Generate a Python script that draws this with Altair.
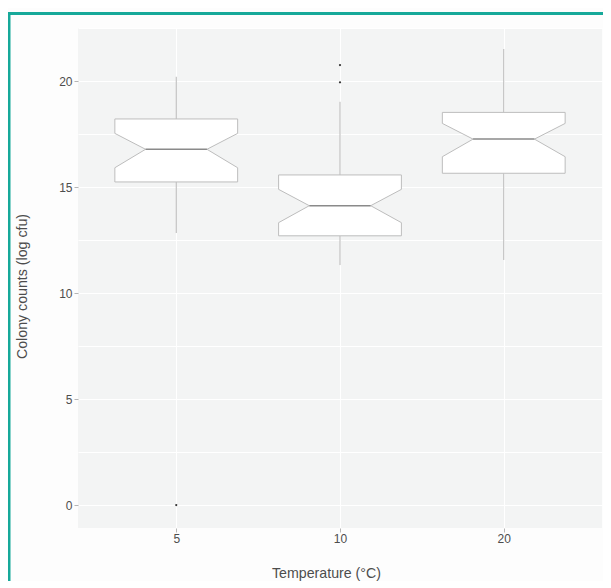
import altair as alt
import pandas as pd

# ---- data ----
temps = ["5", "10", "20"]
q1 = [15.24, 12.70, 15.65]
median = [16.78, 14.12, 17.26]
q3 = [18.21, 15.57, 18.52]
notch_lo = [15.91, 13.32, 16.43]
notch_hi = [17.53, 14.89, 18.00]
whisker_lo = [12.83, 11.32, 11.56]
whisker_hi = [20.20, 19.02, 21.51]
outlier_temp = ["5", "10", "10"]
outlier_val = [0.0, 19.94, 20.75]
y_grid = [0, 2.5, 5, 7.5, 10, 12.5, 15, 17.5, 20, 22.5]

BOX_HALF = 0.375
NOTCH_HALF = 0.1875

# ---- tables ----
rows = []
for i, t in enumerate(temps):
    p = i + 1
    for yv, h in [(q1[i], BOX_HALF), (notch_lo[i], BOX_HALF), (median[i], NOTCH_HALF),
                  (notch_hi[i], BOX_HALF), (q3[i], BOX_HALF)]:
        rows.append(dict(temp=t, y=yv, xl=p - h, xr=p + h))
poly = pd.DataFrame(rows)

pos = [i + 1 for i in range(len(temps))]
stats = pd.DataFrame(dict(
    temp=temps, pos=pos, q1=q1, med=median, q3=q3, wlo=whisker_lo, whi=whisker_hi,
    ml=[p - NOTCH_HALF for p in pos], mr=[p + NOTCH_HALF for p in pos]))
outl = pd.DataFrame(dict(pos=[temps.index(t) + 1 for t in outlier_temp], val=outlier_val))

label_map = "{" + ",".join(f"'{i+1}':'{t}'" for i, t in enumerate(temps)) + "}"

xscale = alt.Scale(domain=[0.4, 3.6], nice=False, zero=False)
yscale = alt.Scale(domain=[-1.08, 22.5], nice=False, zero=False)

FONT = "Liberation Sans"
xaxis = alt.Axis(values=pos, labelExpr=f"{label_map}[''+datum.value]",
                 title="Temperature (°C)", grid=True, gridColor="white", gridWidth=1,
                 domain=False, tickColor="#b5b5b5", tickSize=4, labelPadding=1,
                 labelFont=FONT, labelFontSize=12, labelColor="#4d4d4d",
                 titleFont=FONT, titleFontSize=14.2, titleFontWeight="normal",
                 titleColor="#4d4d4d", titleX=248, titleY=45, titleBaseline="middle",
                 titleAlign="center")
yaxis = alt.Axis(values=y_grid,
                 labelExpr="datum.value % 5 == 0 ? datum.label : ''",
                 tickOpacity={"condition": {"test": "datum.value % 5 != 0", "value": 0}, "value": 1},
                 title="Colony counts (log cfu)", grid=True, gridColor="white", gridWidth=1,
                 domain=False, tickColor="#b5b5b5", tickSize=4, labelPadding=2,
                 labelFont=FONT, labelFontSize=12, labelColor="#4d4d4d",
                 titleFont=FONT, titleFontSize=14.2, titleFontWeight="normal",
                 titleColor="#4d4d4d", titleAngle=-90, titleX=-56, titleY=258,
                 titleBaseline="middle", titleAlign="center")

border_v = alt.Chart(pd.DataFrame({"a": [0]})).mark_rule(color="#17a99a", strokeWidth=3).encode(
    x=alt.value(-69), y=alt.value(-16), y2=alt.value(580))
border_h = alt.Chart(pd.DataFrame({"a": [0]})).mark_rule(color="#17a99a", strokeWidth=3).encode(
    x=alt.value(-70.5), x2=alt.value(530), y=alt.value(-14.5))

whisk_up = alt.Chart(stats).mark_rule(color="#b8b8b8", strokeWidth=1).encode(
    x=alt.X("pos:Q", scale=xscale, axis=xaxis),
    y=alt.Y("q3:Q", scale=yscale, axis=yaxis), y2="whi:Q")
whisk_dn = alt.Chart(stats).mark_rule(color="#b8b8b8", strokeWidth=1).encode(
    x=alt.X("pos:Q", scale=xscale, axis=xaxis),
    y=alt.Y("wlo:Q", scale=yscale, axis=yaxis), y2="q1:Q")

boxes = alt.Chart(poly).mark_area(orient="horizontal", fill="white", stroke="#bdbdbd",
                                  strokeWidth=1, opacity=1).encode(
    y=alt.Y("y:Q", scale=yscale, axis=yaxis),
    x=alt.X("xl:Q", scale=xscale, axis=xaxis), x2="xr:Q",
    detail="temp:N")

med_line = alt.Chart(stats).mark_rule(color="#8a8a8a", strokeWidth=1.5).encode(
    x=alt.X("ml:Q", scale=xscale, axis=xaxis), x2="mr:Q",
    y=alt.Y("med:Q", scale=yscale, axis=yaxis))

points = alt.Chart(outl).mark_circle(size=5, color="#333333", opacity=1).encode(
    x=alt.X("pos:Q", scale=xscale, axis=xaxis),
    y=alt.Y("val:Q", scale=yscale, axis=yaxis))

chart = alt.layer(whisk_up, whisk_dn, boxes, med_line, points, border_v, border_h).properties(
    width=524, height=500,
    autosize=alt.AutoSizeParams(type="none"),
    padding={"left": 70, "top": 20, "right": 1, "bottom": 53},
    background="#fdfdfd",
).configure_view(fill="#f3f4f4", stroke=None)

chart.save("out.html", embed_options={"renderer": "svg", "actions": False})
